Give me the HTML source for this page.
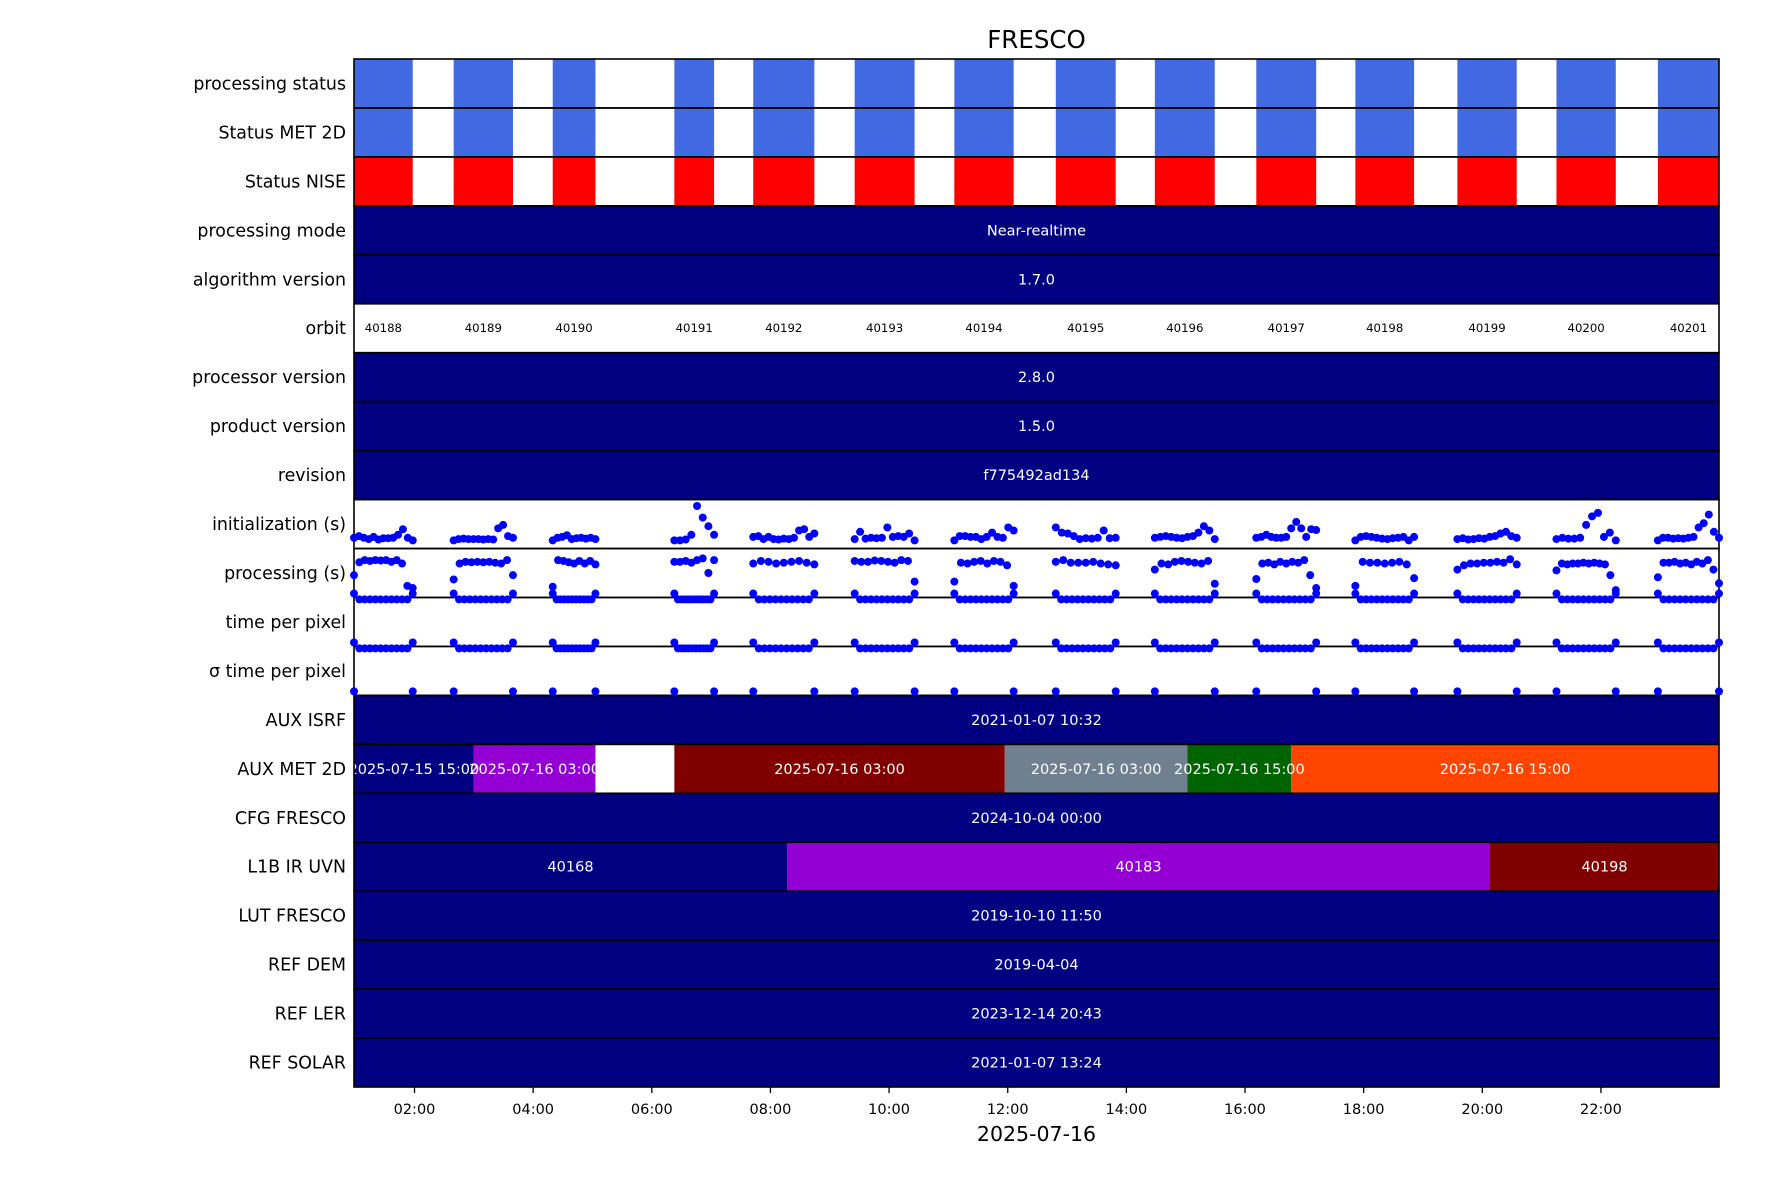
<!DOCTYPE html>
<html><head><meta charset="utf-8"><style>
html,body{margin:0;padding:0;background:#fff;}
svg{display:block;font-family:"DejaVu Sans","Liberation Sans",sans-serif;}
</style></head><body>
<svg id="chart" width="1771" height="1181" viewBox="0 0 1771 1181" xmlns="http://www.w3.org/2000/svg">
<text x="1036.5" y="48" font-size="24.5" text-anchor="middle" fill="#000">FRESCO</text>
<text x="1036.5" y="1141" font-size="20.5" text-anchor="middle" fill="#000">2025-07-16</text>
</svg>
<script>
const rowLabels = ["processing status","Status MET 2D","Status NISE","processing mode","algorithm version","orbit","processor version","product version","revision","initialization (s)","processing (s)","time per pixel","\u03c3 time per pixel","AUX ISRF","AUX MET 2D","CFG FRESCO","L1B IR UVN","LUT FRESCO","REF DEM","REF LER","REF SOLAR"];
const orbitNumbers = [40188,40189,40190,40191,40192,40193,40194,40195,40196,40197,40198,40199,40200,40201];
const orbitStart = [0.98,2.66,4.33,6.38,7.71,9.42,11.10,12.81,14.48,16.19,17.86,19.58,21.25,22.96];
const orbitEnd = [1.97,3.66,5.05,7.05,8.74,10.43,12.10,13.82,15.49,17.20,18.85,20.58,22.25,23.99];
const tickHours = [2,4,6,8,10,12,14,16,18,20,22];
const tickLabels = ["02:00","04:00","06:00","08:00","10:00","12:00","14:00","16:00","18:00","20:00","22:00"];
const initValues = [
 [18,22,18,15,20,14,17,17,18,25,38,18,12],
 [12,15,16,15,15,15,14,15,14,40,48,22,18],
 [12,18,20,24,15,17,18,16,18,15],
 [12,12,14,25,92,65,45,25],
 [20,22,15,20,15,14,16,15,18,35,38,20,28],
 [15,32,16,18,17,18,42,20,22,20,28,12],
 [12,22,22,20,20,15,20,30,20,18,42,35],
 [42,30,28,22,15,17,16,18,35,17,18],
 [18,20,22,20,18,17,20,22,30,45,35,15],
 [18,20,25,20,18,18,20,40,55,40,20,38,36],
 [12,20,22,20,18,16,15,17,18,20,12,20],
 [15,17,14,15,17,16,20,22,28,32,22,18],
 [15,18,16,16,18,48,68,76,20,30,12],
 [12,18,18,16,17,16,18,20,42,52,72,32,18]
];
const procValues = [
 [45,75,80,78,80,79,80,76,80,72,20,15],
 [35,72,76,75,76,75,76,74,72,80,45],
 [18,80,78,75,72,78,72,78,70],
 [76,76,78,74,80,84,50,80],
 [72,78,76,72,74,76,78,74,70],
 [78,76,76,79,78,76,74,80,78,30],
 [30,74,72,76,78,72,78,76,68,20],
 [76,80,74,74,74,76,72,70,68],
 [58,72,70,76,78,76,74,72,78,25],
 [36,72,74,70,76,72,76,74,80,45,15],
 [20,76,74,74,72,74,76,70,38],
 [58,68,72,72,74,74,76,74,82,70],
 [56,72,70,72,72,74,72,74,72,70,45,10],
 [40,74,74,76,72,74,70,76,72,80,58,26]
];
const tppEdge = [108,96,96,96,96,96,96,96,96,96,96,108];
const sigmaLow = [4,4];

const svg = document.getElementById('chart');
const NS = 'http://www.w3.org/2000/svg';
const L = 354, R = 1719, T = 59, B = 1087;
const RH = (B - T) / rowLabels.length;
const hMin = 0.98, hMax = 23.99;
function xScale(h){ return L + (h - hMin) / (hMax - hMin) * (R - L); }
function rowTop(i){ return T + i * RH; }
function yScale(i, v){ return rowTop(i) + RH - 3 - v / 100 * (RH - 6); }
function mk(tag, attrs, parent){ const e = document.createElementNS(NS, tag); for (const k in attrs) e.setAttribute(k, attrs[k]); (parent || svg).appendChild(e); return e; }
function txt(x, y, s, size, fill, anchor){ const t = mk('text', {x:x, y:y, 'font-size':size, fill:fill, 'text-anchor':anchor || 'middle'}); t.textContent = s; return t; }

function fullBar(i, color, label, name){
  const r = mk('rect', {x:L, y:rowTop(i), width:R-L, height:RH, fill:color});
  
  
  if (label){ const t = txt((L+R)/2, rowTop(i)+RH/2+5, label, 14.5, '#fff');
    
     }
}
function segBar(i, starts, ends, colors, labels, name){
  for (let k = 0; k < starts.length; k++){
    const x0 = xScale(starts[k]), x1 = xScale(ends[k]);
    const r = mk('rect', {x:x0, y:rowTop(i), width:x1-x0, height:RH, fill:colors[k]});
    
    
  }
  for (let k = 0; k < starts.length; k++){
    if (!labels[k]) continue;
    const t = txt((xScale(starts[k])+xScale(ends[k]))/2, rowTop(i)+RH/2+5, labels[k], 14.5, '#fff');
    
    
  }
}
const statusColors = ['#4169e1','#4169e1','#ff0000'];
for (let i = 0; i < 3; i++){
  for (let k = 0; k < orbitNumbers.length; k++){
    const x0 = xScale(orbitStart[k]), x1 = xScale(orbitEnd[k]);
    const r = mk('rect', {x:x0, y:rowTop(i), width:x1-x0, height:RH, fill:statusColors[i]});
    
    
  }
}
fullBar(3, '#000080', 'Near-realtime', 'processing-mode');
fullBar(4, '#000080', '1.7.0', 'algorithm-version');
for (let k = 0; k < orbitNumbers.length; k++){
  const t = txt((xScale(orbitStart[k])+xScale(orbitEnd[k]))/2, rowTop(5)+RH/2+4, String(orbitNumbers[k]), 11.7, '#000');
  
  
}
fullBar(6, '#000080', '2.8.0', 'processor-version');
fullBar(7, '#000080', '1.5.0', 'product-version');
fullBar(8, '#000080', 'f775492ad134', 'revision');
fullBar(13, '#000080', '2021-01-07 10:32', 'aux-isrf');
const metStart = [0.98,3.00,6.38,11.95,15.03,16.78];
const metEnd = [3.00,5.05,11.95,15.03,16.78,23.99];
const metColors = ['#000080','#9400d3','#800000','#708090','#006400','#ff4500'];
const metLabels = ['2025-07-15 15:00','2025-07-16 03:00','2025-07-16 03:00','2025-07-16 03:00','2025-07-16 15:00','2025-07-16 15:00'];
segBar(14, metStart, metEnd, metColors, metLabels, 'aux-met-2d');
fullBar(15, '#000080', '2024-10-04 00:00', 'cfg-fresco');
const l1bStart = [0.98,8.28,20.13], l1bEnd = [8.28,20.13,23.99];
segBar(16, l1bStart, l1bEnd, ['#000080','#9400d3','#800000'], ['40168','40183','40198'], 'l1b-ir-uvn');
fullBar(17, '#000080', '2019-10-10 11:50', 'lut-fresco');
fullBar(18, '#000080', '2019-04-04', 'ref-dem');
fullBar(19, '#000080', '2023-12-14 20:43', 'ref-ler');
fullBar(20, '#000080', '2021-01-07 13:24', 'ref-solar');

for (let i = 0; i < rowLabels.length; i++){
  const f = mk('rect', {x:L, y:rowTop(i), width:R-L, height:RH, fill:'none', stroke:'#000', 'stroke-width':1.6});
  
  
  const t = txt(L-8, rowTop(i)+RH/2+6, rowLabels[i], 17.4, '#000', 'end');
  
  
}

function dot(x, y, name){
  const c = mk('circle', {cx:x, cy:y, r:4, fill:'#0000ff'});
  
  
}
function ptX(k, j, n){ return xScale(orbitStart[k] + (orbitEnd[k]-orbitStart[k]) * j / (n-1)); }
for (let k = 0; k < orbitNumbers.length; k++){
  const iv = initValues[k];
  for (let j = 0; j < iv.length; j++) dot(ptX(k,j,iv.length), yScale(9, iv[j]), 'init-point');
  const pv = procValues[k];
  for (let j = 0; j < pv.length; j++) dot(ptX(k,j,pv.length), yScale(10, pv[j]), 'processing-point');
  for (let j = 0; j < tppEdge.length; j++){
    const x = ptX(k,j,tppEdge.length);
    dot(x, rowTop(11) + RH*(1 - tppEdge[j]/100), 'tpp-point');
    dot(x, rowTop(12) + RH*(1 - tppEdge[j]/100), 'sigma-point');
  }
  for (let j = 0; j < sigmaLow.length; j++){
    dot(ptX(k,j,sigmaLow.length), rowTop(13) - sigmaLow[j], 'sigma-low-point');
  }
}

for (let k = 0; k < tickHours.length; k++){
  const x = xScale(tickHours[k]);
  const l = mk('line', {x1:x, y1:B, x2:x, y2:B+6, stroke:'#000', 'stroke-width':1.3});
  
  
  const t = txt(x, B+27, tickLabels[k], 14.5, '#000');
  
  
}
</script>
</body></html>
